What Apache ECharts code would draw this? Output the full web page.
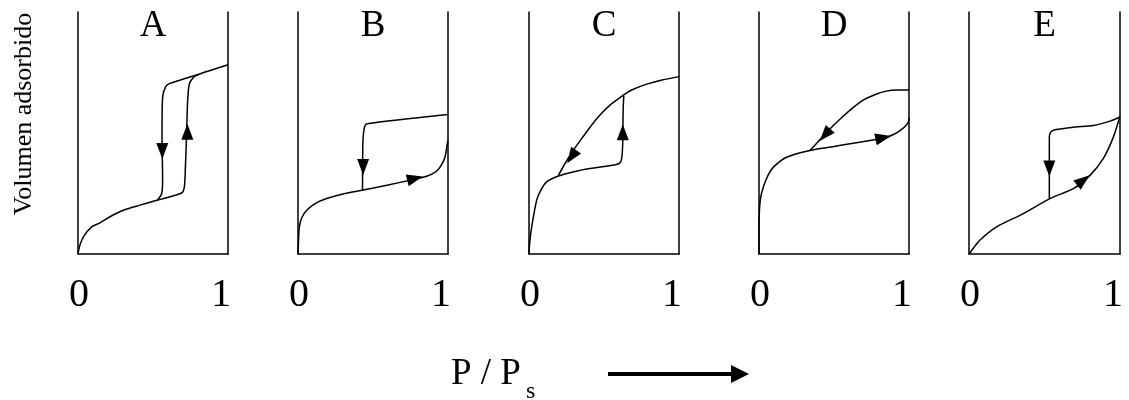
<!DOCTYPE html>
<html>
<head>
<meta charset="utf-8">
<script src="https://cdn.jsdelivr.net/npm/echarts@6/dist/echarts.min.js"></script>
<style>
  html, body { margin: 0; padding: 0; background: #fff; }
  #chart { width: 1129px; height: 400px; }
</style>
</head>
<body>
<div id="chart"></div>
<script>
// Isotherm types A–E: adsorbed volume vs relative pressure P/Ps
const panelLetters = ['A', 'B', 'C', 'D', 'E'];
const xTicks = [0, 1];
const yLabel = 'Volumen adsorbido';

// adsorption branches [P/Ps, volume]
const adsA = [[0,0],[0.012,3.5],[0.036,7.1],[0.091,11.2],[0.147,12.9],[0.213,15.4],[0.302,18.1],[0.413,20.2],[0.525,22.2],[0.691,25.2],[0.709,27.7],[0.716,35.9],[0.724,49.7],[0.731,63.4],[0.742,70.2],[0.769,72.9],[0.802,74.2],[1,78.2]];
const adsB = [[0,0],[0.003,5],[0.009,11.2],[0.025,15],[0.058,18.1],[0.12,21],[0.191,22.9],[0.3,24.8],[0.425,26.3],[0.6,28.5],[0.747,30.5],[0.858,32.1],[0.92,34],[0.947,35.9],[0.98,40.0],[0.995,45.6],[1,47]];
const adsC = [[0,0],[0.005,5],[0.018,11.2],[0.051,22.2],[0.08,26.5],[0.118,29.8],[0.196,32.2],[0.3,34],[0.407,35.3],[0.584,37.0],[0.608,37.8],[0.618,39.5],[0.624,44.2],[0.628,60],[0.632,65.4]];
const adsD = [[0,0],[0,8],[0.002,16.7],[0.01,23],[0.029,27.7],[0.06,32.5],[0.096,35.9],[0.184,40],[0.34,42.8],[0.5,44.4],[0.629,45.8],[0.75,47],[0.829,47.8],[0.9,49.5],[0.94,51],[0.975,52.8],[0.996,54.6],[1,56.5]];
const adsE = [[0,0],[0.03,2.5],[0.073,5.8],[0.183,11.2],[0.36,16.7],[0.536,22.9],[0.691,27.0],[0.801,32.5],[0.889,39.4],[0.956,48.3],[1,57]];

// desorption branches [P/Ps, volume]
const desA = [[0.802,74.2],[0.613,70.5],[0.584,69.1],[0.564,64.7],[0.56,49.7],[0.564,30.5],[0.558,25],[0.529,22.2]];
const desB = [[1,57.6],[0.46,53.8],[0.445,52.8],[0.437,50],[0.432,45],[0.43,26.3]];
const desC = [[1,73.3],[0.88,71.8],[0.785,70.2],[0.7,68.2],[0.651,66.6],[0.6,64.3],[0.54,61.5],[0.47,57.2],[0.407,52.4],[0.35,47.6],[0.295,42.8],[0.24,37.4],[0.196,32.5]];
const desD = [[1,67.8],[0.918,67.8],[0.84,67.2],[0.784,66.1],[0.7,63.8],[0.629,60.6],[0.55,56.3],[0.473,51.7],[0.41,47.5],[0.362,44.2],[0.34,42.8]];
const desE = [[1,56.6],[0.934,54.9],[0.823,53.1],[0.691,52.4],[0.57,51.3],[0.541,50.3],[0.532,48.3],[0.532,22.9]];

// direction arrows [P/Ps, volume, rotation in degrees]
const arrowsA = [[0.562,42.6,180],[0.729,50.5,0]];
const arrowsB = [[0.434,35.9,180],[0.78,31.2,-76]];
const arrowsC = [[0.284,40.2,146],[0.625,50.3,0]];
const arrowsD = [[0.44,49.2,139],[0.829,48.1,-78]];
const arrowsE = [[0.532,35.3,180],[0.757,30.5,-52]];

const adsorption = [adsA, adsB, adsC, adsD, adsE];
const desorption = [desA, desB, desC, desD, desE];
const arrows = [arrowsA, arrowsB, arrowsC, arrowsD, arrowsE];

const panelLeft = [78, 298, 529, 759, 969];
const panelWidth = [150, 150, 150, 150, 151];
const FONT = "'Liberation Serif', 'Times New Roman', serif";
const INK = '#000';

const grid = [], xAxis = [], yAxis = [], series = [], graphic = [];

panelLetters.forEach((letter, i) => {
  grid.push({ left: panelLeft[i], width: panelWidth[i], top: 12, height: 242 });
  xAxis.push({
    type: 'value', gridIndex: i, min: xTicks[0], max: xTicks[xTicks.length - 1], interval: 1,
    axisLine: { show: true, lineStyle: { color: INK, width: 1.5 } },
    axisTick: { show: false }, splitLine: { show: false },
    axisLabel: {
      color: INK, fontSize: 40, fontFamily: FONT, margin: 21,
      formatter: v => v === 1 ? '{one|1}' : '{zero|0}',
      rich: { one: { fontSize: 40, fontFamily: FONT, padding: [0, 14, 0, 0] },
              zero: { fontSize: 40, fontFamily: FONT, padding: [0, 0, 0, 2] } }
    }
  });
  ['left', 'right'].forEach(pos => {
    yAxis.push({
      type: 'value', gridIndex: i, min: 0, max: 100, position: pos,
      axisLine: { show: true, onZero: false, lineStyle: { color: INK, width: 1.5 } },
      axisTick: { show: false }, axisLabel: { show: false }, splitLine: { show: false }
    });
  });
  const lineStyle = { color: INK, width: 1.5 };
  series.push({
    type: 'line', xAxisIndex: i, yAxisIndex: 2 * i, data: adsorption[i],
    smooth: 0.25, showSymbol: false, lineStyle, silent: true
  });
  series.push({
    type: 'line', xAxisIndex: i, yAxisIndex: 2 * i, data: desorption[i],
    smooth: 0.25, showSymbol: false, lineStyle, silent: true
  });
  series.push({
    type: 'scatter', xAxisIndex: i, yAxisIndex: 2 * i, data: arrows[i],
    symbol: 'triangle', symbolSize: [12, 16],
    symbolRotate: v => v[2],
    itemStyle: { color: INK, opacity: 1 }, silent: true, z: 5
  });
  graphic.push({
    type: 'text', x: panelLeft[i] + panelWidth[i] / 2, y: 26,
    style: { text: letter, fontSize: 37, fontFamily: FONT, fill: INK,
             textAlign: 'center', textVerticalAlign: 'middle' }
  });
});

// shared axis titles
graphic.push({
  type: 'text', x: 24, y: 114, rotation: Math.PI / 2,
  style: { text: yLabel, fontSize: 26, fontFamily: FONT, fill: INK,
           textAlign: 'center', textVerticalAlign: 'middle' }
});
graphic.push({
  type: 'text', x: 451, y: 374.5,
  style: { text: 'P / P', fontSize: 37, fontFamily: FONT, fill: INK,
           textAlign: 'left', textVerticalAlign: 'middle' }
});
graphic.push({
  type: 'text', x: 526, y: 391.5,
  style: { text: 's', fontSize: 24, fontFamily: FONT, fill: INK,
           textAlign: 'left', textVerticalAlign: 'middle' }
});
graphic.push({
  type: 'line', shape: { x1: 608, y1: 374, x2: 733, y2: 374 },
  style: { stroke: INK, lineWidth: 4 }
});
graphic.push({
  type: 'polygon', shape: { points: [[731, 365], [749, 374], [731, 383]] },
  style: { fill: INK }
});

const chart = echarts.init(document.getElementById('chart'), null, { renderer: 'canvas' });
chart.setOption({
  backgroundColor: '#fff',
  animation: false,
  grid, xAxis, yAxis, series, graphic
});
</script>
</body>
</html>
